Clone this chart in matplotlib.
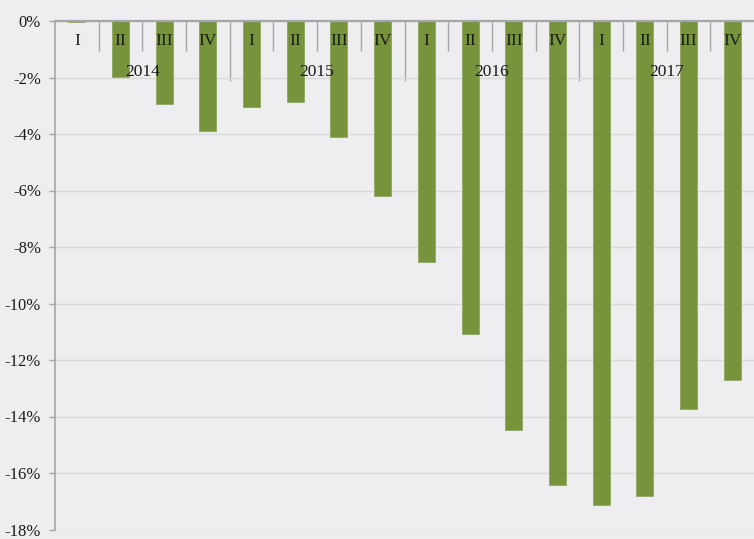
import numpy as np
import matplotlib
matplotlib.use("Agg")
import matplotlib.pyplot as plt
from matplotlib.ticker import FixedLocator

# quarterly change, percent
years = ["2014", "2015", "2016", "2017"]
quarters = ["I", "II", "III", "IV"]
values = [-0.03, -1.98, -2.93, -3.88,
          -3.04, -2.86, -4.09, -6.21,
          -8.54, -11.08, -14.47, -16.43,
          -17.13, -16.82, -13.74, -12.72]
yticks = [0, -2, -4, -6, -8, -10, -12, -14, -16, -18]

BG = "#eeeef1"
BAR = "#77933c"
AX = "#a6a6a6"
plt.rcParams["font.family"] = ["Liberation Serif", "DejaVu Serif"]

fig = plt.figure(figsize=(7.54, 5.39), dpi=100, facecolor=BG)
ax = fig.add_axes([55 / 754, 1 - 529.5 / 539, 1 - 55 / 754, (529.5 - 21) / 539], facecolor=BG)

x = np.arange(len(values))
ax.bar(x, values, width=0.39, color=BAR, edgecolor="#8fa860", linewidth=0.6, zorder=2)

ax.set_xlim(-0.5, len(values) - 0.5)
ax.set_ylim(yticks[-1], 0)
ax.set_yticks(yticks)
ax.set_yticklabels(["%d%%" % v for v in yticks], fontsize=12, color="#1a1a1a")
ax.yaxis.grid(True, color="#d9d9d9", lw=1.0, zorder=0)
ax.tick_params(axis="y", length=4, color=AX, width=1, pad=6)

# category axis at the top, tick marks pointing into the plot
ax.xaxis.tick_top()
nq = len(quarters)
ax.xaxis.set_major_locator(FixedLocator([i * nq - 0.5 for i in range(1, len(years))]))
ax.xaxis.set_minor_locator(FixedLocator([i - 0.5 for i in range(1, len(values)) if i % nq]))
ax.set_xticklabels([])
ax.tick_params(axis="x", which="major", direction="in", length=43, color=AX, width=1, top=True, bottom=False)
ax.tick_params(axis="x", which="minor", direction="in", length=21.5, color=AX, width=1, top=True, bottom=False)

for i in range(len(values)):
    ax.text(i, -0.71, quarters[i % nq], ha="center", va="center", fontsize=12.5, color="#1a1a1a", zorder=3)
for j, yr in enumerate(years):
    ax.text(j * nq + (nq - 1) / 2, -1.8, yr, ha="center", va="center", fontsize=12.5, color="#1a1a1a", zorder=3)

for s in ["right", "bottom"]:
    ax.spines[s].set_visible(False)
ax.spines["left"].set_color(AX)
ax.spines["left"].set_linewidth(1.2)
ax.spines["top"].set_color(AX)
ax.spines["top"].set_linewidth(1.6)

fig.savefig("out.png", dpi=100, facecolor=BG)
